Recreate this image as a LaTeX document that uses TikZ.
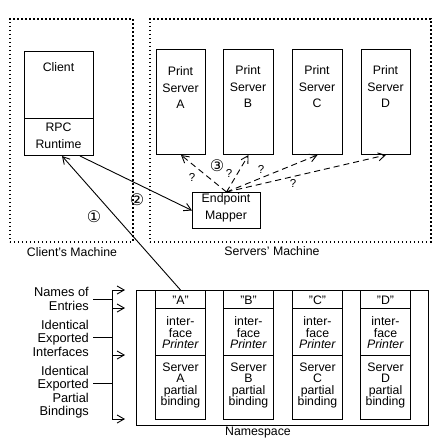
\documentclass[tikz,border=0pt]{standalone}
\usepackage{fontspec}
\setmainfont{Liberation Sans}
\newfontfamily\symf{DejaVu Sans}
\usetikzlibrary{arrows.meta,calc}
\begin{document}
\begin{tikzpicture}[x=1pt,y=-1pt,
  box/.style={draw,line width=1pt,inner sep=0pt,anchor=north west},
  machine/.style={draw,line width=1.6pt,dash pattern=on 1.6pt off 2.4pt,inner sep=0pt,anchor=north west},
  txt/.style={inner sep=0pt,align=center,font=\fontsize{12.3}{16.5}\selectfont},
  ntxt/.style={inner sep=0pt,align=center,font=\fontsize{12.3}{11.5}\selectfont},
  ltxt/.style={inner sep=0pt,align=right,anchor=east,font=\fontsize{12.8}{13.5}\selectfont},
  num/.style={inner sep=0pt,font=\symf\fontsize{16}{16}\selectfont},
  qm/.style={inner sep=0pt,font=\fontsize{11.5}{11.5}\selectfont},
  arr/.style={-{Straight Barb[length=7pt,width=8pt]},line width=0.9pt},
  darr/.style={arr,dash pattern=on 6pt off 4pt},
]
\useasboundingbox (0,0) rectangle (440,444);
\fill[white] (0,0) rectangle (440,444);

% machines
\node[machine,minimum width=123pt,minimum height=223pt] (cm) at (9,18) {};
\node[machine,minimum width=281pt,minimum height=223pt] (sm) at (149,18) {};
\node[txt] (cmlab) at (72,252) {Client's Machine};
\node[txt] (smlab) at (272,251) {Servers' Machine};

% client
\node[box,minimum width=69pt,minimum height=67pt] (cl) at (24,51) {};
\node[box,minimum width=69pt,minimum height=37pt] (rpc) at (24,118) {};
\node[txt] (cltxt) at (58.5,67) {Client};
\node[txt] (rpctxt) at (58.5,136) {RPC\\Runtime};

% print servers
\node[box,minimum width=49pt,minimum height=105pt] (sA) at (156,49) {};
\node[box,minimum width=50pt,minimum height=105pt] (sB) at (223,49) {};
\node[box,minimum width=50pt,minimum height=105pt] (sC) at (292,49) {};
\node[box,minimum width=49pt,minimum height=105pt] (sD) at (361,49) {};
\node[txt] (tA) at (180.5,88) {Print\\Server\\A};
\node[txt] (tB) at (248,87) {Print\\Server\\B};
\node[txt] (tC) at (317,87) {Print\\Server\\C};
\node[txt] (tD) at (385.5,87) {Print\\Server\\D};

% endpoint mapper
\node[box,minimum width=68pt,minimum height=36pt] (em) at (192,192) {};
\node[txt] (emtxt) at (226,208) {Endpoint\\Mapper};

% namespace
\node[box,minimum width=292pt,minimum height=135pt] (ns) at (136,290) {};
\node[txt] (nslab) at (258,433) {Namespace};
\foreach \n/\x in {A/155,B/223,C/292,D/360}{
  \node[box,minimum width=50pt,minimum height=18pt] (n\n n) at (\x,290) {};
  \node[box,minimum width=50pt,minimum height=47pt] (n\n i) at (\x,308) {};
  \node[box,minimum width=50pt,minimum height=64pt] (n\n b) at (\x,355) {};
  \node[ntxt] (t\n n) at ($(n\n n.center)+(0,0.5)$) {"\n"};
  \node[ntxt] (t\n i) at ($(n\n i.center)+(0,1)$) {inter-\\face\\\textit{Printer}};
  \node[ntxt] (t\n b) at ($(n\n b.center)+(0,-2)$) {Server\\\n\\partial\\binding};
}

% left labels and bracket
\node[ltxt] (l1) at (89,299) {Names of\\Entries};
\node[ltxt] (l2) at (89,338) {Identical\\Exported\\Interfaces};
\node[ltxt] (l3) at (89,392) {Identical\\Exported\\Partial\\Bindings};
\coordinate (bt) at (112,290);
\coordinate (bb) at (112,419);
\draw[line width=0.9pt] (bt) -- (bb);
\foreach \y in {299,337,383}{\draw[line width=0.9pt] (93,\y) -- (112,\y);}
\foreach \y in {290,308,355,419}{\draw[arr] (112,\y) -- (125,\y);}

% connectors
\draw[arr] (nAn.north) -- ($(rpc.south)+(3,0)$);
\draw[arr] ($(rpc.south)!0.6!(rpc.south east)$) -- (em.west);
\draw[darr] (em.north) -- (sA.south);
\draw[darr] (em.north) -- (sB.south);
\draw[darr] (em.north) -- (sC.south);
\draw[darr] (em.north) -- (sD.south);

% labels
\node[num] (c1) at (94,217) {①};
\node[num] (c2) at (137,200) {②};
\node[num] (c3) at (217,166) {③};
\node[qm] (q1) at (192,177) {?};
\node[qm] (q2) at (229,173) {?};
\node[qm] (q3) at (261,169) {?};
\node[qm] (q4) at (293,183) {?};
\end{tikzpicture}
\end{document}
